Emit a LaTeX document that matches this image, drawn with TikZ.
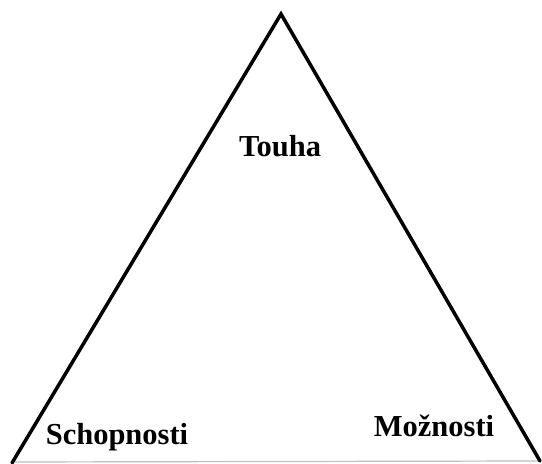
\documentclass[tikz,border=0pt]{standalone}
\usepackage{fontspec}
\setmainfont{Liberation Serif}
\begin{document}
\begin{tikzpicture}[x=1pt,y=1pt,
  side/.style={line width=3.5pt, line cap=round, line join=miter},
  base/.style={line width=1.2pt, draw=black!25},
  corner/.style={font=\bfseries\fontsize{30.5}{33}\selectfont, anchor=base, inner sep=0pt}]
  \useasboundingbox (0,0) rectangle (542,464);
  % corners of the triangle
  \coordinate (apex) at (281,450);
  \coordinate (bl) at (12,1);
  \coordinate (br) at (540,3);
  \coordinate (bl2) at (15,2);
  % base line
  \draw[base] (bl2) -- (br);
  % two slanted sides
  \draw[side] (bl) -- (apex) -- (br);
  % labels
  \node[corner] (touha) at (280,307) {Touha};
  \node[corner] (schop) at (117,19) {Schopnosti};
  \node[corner] (mozn) at (434,27) {Možnosti};
\end{tikzpicture}
\end{document}
